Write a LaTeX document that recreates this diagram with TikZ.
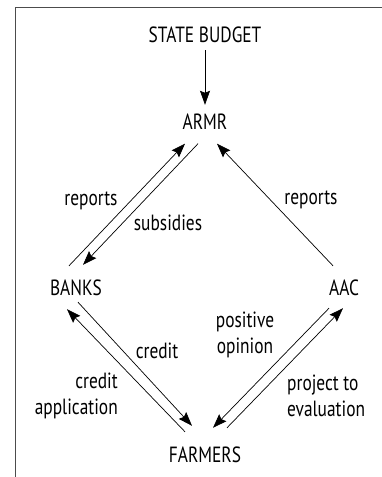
\documentclass[tikz,border=0pt]{standalone}
\usepackage{fontspec}
\setmainfont{PT Sans}[FakeStretch=0.79]
\usetikzlibrary{arrows.meta}

\begin{document}
\begin{tikzpicture}[x=1pt,y=1pt,
  font=\fontsize{22}{26}\selectfont,
  box/.style={inner sep=0pt,text height=15pt,text depth=0pt},
  lbl/.style={inner sep=0pt,align=center},
  arr/.style={-{Stealth[length=14pt,width=10pt,inset=2pt]},line width=0.7pt}]
  \useasboundingbox (0,0) rectangle (382,477);
  \draw[line width=1.3pt,black!70] (382,469.5) -- (15.5,469.5) -- (15.5,0);

  % actors
  \node[box] (budget) at (205,442) {STATE BUDGET};
  \node[box] (armr) at (205,355) {ARMR};
  \node[box] (banks) at (76,189) {BANKS};
  \node[box] (aac) at (344,189) {AAC};
  \node[box] (farmers) at (205,22) {FARMERS};

  % flows
  \draw[arr] ([yshift=-7.5]budget.south) -- ([yshift=9.5]armr.north);
  \draw[arr] ([shift={(-7,14.5)}]banks.north) -- ([shift={(-20,-14)}]armr.south);
  \draw[arr] ([shift={(-7,-14)}]armr.south) -- ([shift={(7,15.5)}]banks.north);
  \draw[arr] ([shift={(-11,14.5)}]aac.north) -- ([shift={(12,-14)}]armr.south);
  \draw[arr] ([shift={(-20,15.5)}]farmers.north) -- ([shift={(-9,-13.5)}]banks.south);
  \draw[arr] ([shift={(2,-6.5)}]banks.south) -- ([shift={(-13,21.5)}]farmers.north);
  \draw[arr] ([shift={(-15,-12.5)}]aac.south) -- ([shift={(8,19.5)}]farmers.north);
  \draw[arr] ([shift={(22,19.5)}]farmers.north) -- ([shift={(-1,-12.5)}]aac.south);

  % labels
  \node[lbl] (reports1) at (91,276) {reports};
  \node[lbl] (subsidies) at (168,254) {subsidies};
  \node[lbl] (reports2) at (311,277) {reports};
  \node[lbl] (opinion) at (245,142) {positive\\opinion};
  \node[lbl] (credit) at (157,126) {credit};
  \node[lbl,align=right,anchor=east] (application) at (118,81) {credit\\application};
  \node[lbl,align=left,anchor=west] (project) at (287,81) {project to\\evaluation};
\end{tikzpicture}
\end{document}
